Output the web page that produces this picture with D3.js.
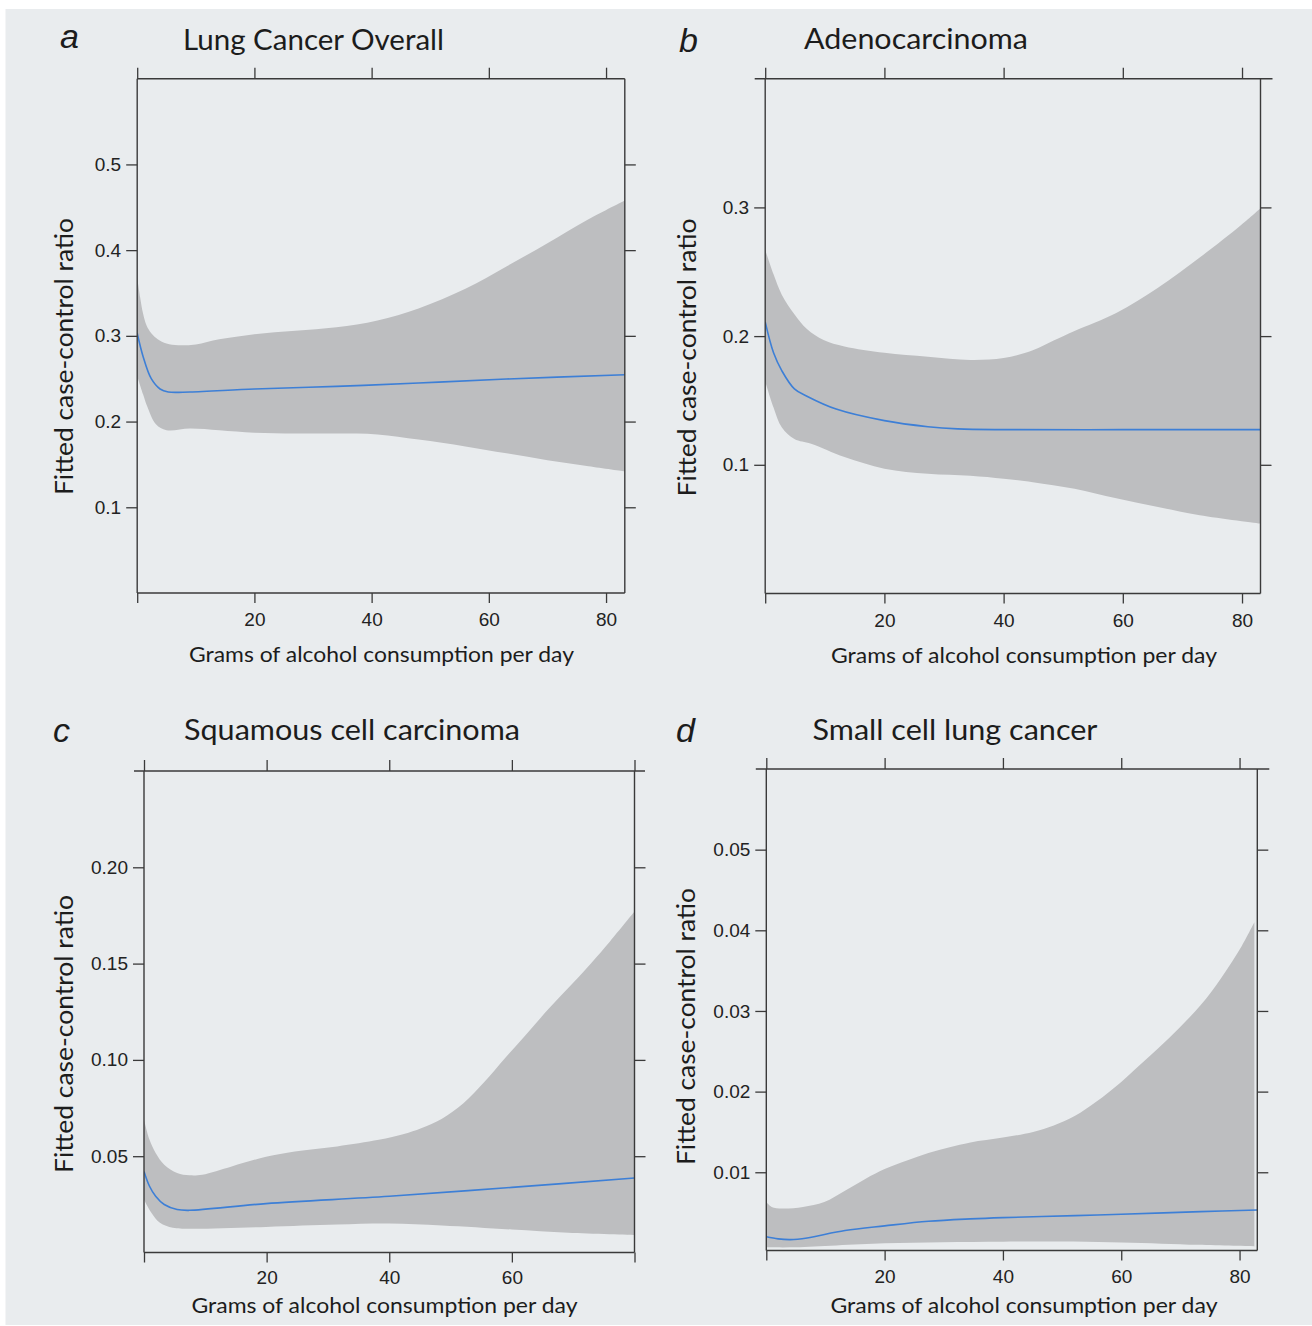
<!DOCTYPE html>
<html>
<head>
<meta charset="utf-8">
<script src="https://cdn.jsdelivr.net/npm/d3@7"></script>
<style>
  body { margin: 0; background: #ffffff; }
  svg { display: block; }
</style>
</head>
<body>
<svg id="chart" width="1312" height="1326"></svg>
<script>
// ---------------- DATA ----------------
const xTicks = [0, 20, 40, 60, 80];

// Panel a : Lung Cancer Overall
const aTitle = "Lung Cancer Overall";
const aXMax = 83.2;
const aYDomain = [0, 0.6];
const aYTicks = [0.1, 0.2, 0.3, 0.4, 0.5];
const aYLabels = ["0.1", "0.2", "0.3", "0.4", "0.5"];
const aXLabels = [20, 40, 60, 80];
const aUpper = [[0,0.368],[0.5,0.345],[1,0.326],[1.6,0.312],[2.4,0.303],[3.5,0.296],[5,0.291],[7,0.289],[10,0.290],[14,0.296],[20,0.302],[27,0.306],[34,0.310],[41,0.318],[48,0.332],[56,0.355],[63,0.381],[70,0.408],[77,0.436],[83.2,0.458]];
const aLower = [[0,0.253],[1,0.232],[1.7,0.218],[3.2,0.197],[5,0.190],[9,0.192],[14,0.190],[20,0.187],[27,0.186],[34,0.186],[41,0.185],[48,0.179],[56,0.171],[63,0.163],[70,0.155],[77,0.148],[83.2,0.142]];
const aFit = [[0,0.303],[1,0.276],[2.4,0.250],[3.9,0.238],[5.3,0.2345],[9,0.2345],[20,0.238],[34,0.241],[48,0.245],[63,0.2496],[83.2,0.2547]];

// Panel b : Adenocarcinoma
const bTitle = "Adenocarcinoma";
const bXMax = 83.1;
const bYDomain = [0, 0.4];
const bYTicks = [0.1, 0.2, 0.3];
const bYLabels = ["0.1", "0.2", "0.3"];
const bXLabels = [20, 40, 60, 80];
const bUpper = [[0,0.267],[1.4,0.248],[2.8,0.232],[4.9,0.217],[7,0.2055],[9.8,0.197],[13.3,0.192],[20,0.187],[27.3,0.184],[34.4,0.1815],[40,0.183],[44.9,0.189],[48.4,0.1965],[51.9,0.204],[58.9,0.218],[65.9,0.2375],[72.9,0.261],[79.9,0.2865],[83.1,0.2994]];
const bLower = [[0,0.165],[1.4,0.1446],[2.8,0.129],[4.9,0.120],[7.7,0.1163],[13.3,0.106],[20,0.097],[27.3,0.093],[34.4,0.0915],[40,0.0892],[44.9,0.0865],[51.9,0.0814],[58.9,0.0740],[65.9,0.0672],[72.9,0.0608],[83.1,0.0543]];
const bFit = [[0,0.211],[1.4,0.187],[2.8,0.173],[4.9,0.159],[7,0.1533],[11.9,0.1433],[20,0.1343],[27.3,0.1296],[32.3,0.1279],[40,0.1273],[60,0.1273],[83.1,0.1273]];

// Panel c : Squamous cell carcinoma
const cTitle = "Squamous cell carcinoma";
const cXMax = 80;
const cYDomain = [0, 0.25];
const cYTicks = [0.05, 0.10, 0.15, 0.20];
const cYLabels = ["0.05", "0.10", "0.15", "0.20"];
const cXLabels = [20, 40, 60];
const cUpper = [[0,0.0689],[0.9,0.0585],[1.9,0.0517],[3.3,0.0456],[5.4,0.0413],[7.4,0.0401],[9.5,0.0404],[14.3,0.0447],[19.9,0.0497],[24.6,0.0525],[31.5,0.0551],[38.3,0.0585],[42.4,0.0615],[45.2,0.0645],[48.6,0.0695],[52.1,0.0775],[55.5,0.0885],[58.9,0.1010],[62.4,0.1135],[66,0.1265],[70,0.1400],[73,0.1505],[76,0.1615],[80,0.177]];
const cLower = [[0,0.0275],[1.2,0.0206],[2.6,0.0154],[4.7,0.0128],[7.4,0.0123],[19.9,0.0133],[31.5,0.0145],[40,0.0150],[48.6,0.0140],[60,0.0119],[69.2,0.0102],[80,0.0090]];
const cFit = [[0,0.0421],[0.9,0.0344],[1.9,0.0292],[3.3,0.0249],[5.4,0.0223],[7.4,0.0219],[19.9,0.0254],[40,0.0292],[60,0.0338],[80,0.0387]];

// Panel d : Small cell lung cancer
const dTitle = "Small cell lung cancer";
const dXMax = 83;
const dYDomain = [0.0003, 0.06];
const dYTicks = [0.01, 0.02, 0.03, 0.04, 0.05];
const dYLabels = ["0.01", "0.02", "0.03", "0.04", "0.05"];
const dXLabels = [20, 40, 60, 80];
const dUpper = [[0,0.0063],[0.9,0.0057],[2.7,0.0055],[6.2,0.0057],[9.8,0.0063],[13.3,0.0077],[16.8,0.0092],[20,0.0104],[23.9,0.0115],[27.4,0.0124],[31,0.0131],[34.5,0.0137],[40,0.0143],[45.1,0.0150],[48.6,0.0158],[52.2,0.0170],[55.7,0.0187],[60,0.0212],[63,0.0232],[66.3,0.0254],[69.8,0.0279],[73.4,0.0307],[76.9,0.0341],[80.4,0.0381],[82.5,0.0410]];
const dLower = [[0,0.0007],[5,0.0007],[20,0.0012],[40,0.0014],[60,0.0013],[73,0.0010],[82.5,0.0008]];
const dFit = [[0,0.0020],[2,0.00174],[4.1,0.00165],[6.9,0.00186],[13.3,0.00277],[20,0.00335],[27.4,0.00392],[34.5,0.00422],[40,0.00438],[52.2,0.00462],[60,0.00479],[73.4,0.00512],[83,0.00533]];

const yAxisTitle = "Fitted case-control ratio";
const xAxisTitle = "Grams of alcohol consumption per day";

// ---------------- STYLE / LAYOUT ----------------
const BG = "#e9ecee";
const BAND = "#bdbec0";
const BLUE = "#3d7fd6";
const AXIS = "#3a3a3a";
const TEXT = "#1c1c1c";
const TICKFONT = "'Liberation Sans', Arial, sans-serif";
const LABELFONT = "Lato, 'Open Sans', sans-serif";

const panels = [
  { id: "a", title: aTitle, xMax: aXMax, yDomain: aYDomain, yTicks: aYTicks, yLabels: aYLabels, xLabels: aXLabels, upper: aUpper, lower: aLower, fit: aFit,
    L: 137.2, R: 624.8, T: 78.7, B: 593, extL: 0, extR: 0, xPad: 10,
    letter: { x: 60, y: 48 }, titlePos: { x: 183, y: 50, len: 261 },
    xt: { x: 381.5, y: 662, len: 385 }, yt: { x: 73, y: 356.5, len: 277 } },
  { id: "b", title: bTitle, xMax: bXMax, yDomain: bYDomain, yTicks: bYTicks, yLabels: bYLabels, xLabels: bXLabels, upper: bUpper, lower: bLower, fit: bFit,
    L: 765.2, R: 1260.5, T: 78.7, B: 593.5, extL: 10.5, extR: 12, xPad: 10,
    letter: { x: 679, y: 52 }, titlePos: { x: 804, y: 48.5, len: 224 },
    xt: { x: 1024, y: 662.5, len: 386 }, yt: { x: 695.5, y: 357.5, len: 278 } },
  { id: "c", title: cTitle, xMax: cXMax, yDomain: cYDomain, yTicks: cYTicks, yLabels: cYLabels, xLabels: cXLabels, upper: cUpper, lower: cLower, fit: cFit,
    L: 144, R: 634.5, T: 771, B: 1252.5, extL: 10, extR: 10.5, xPad: 8,
    letter: { x: 53, y: 742 }, titlePos: { x: 184, y: 740, len: 336 },
    xt: { x: 384.5, y: 1312.5, len: 386 }, yt: { x: 73, y: 1034, len: 278 } },
  { id: "d", title: dTitle, xMax: dXMax, yDomain: dYDomain, yTicks: dYTicks, yLabels: dYLabels, xLabels: dXLabels, upper: dUpper, lower: dLower, fit: dFit,
    L: 766.3, R: 1257.3, T: 769, B: 1250.5, extL: 10.5, extR: 12, xPad: 9,
    letter: { x: 676, y: 742 }, titlePos: { x: 812.5, y: 740, len: 285 },
    xt: { x: 1024, y: 1312.5, len: 387 }, yt: { x: 694.5, y: 1026.5, len: 277 } }
];

// ---------------- DRAW ----------------
const svg = d3.select("#chart");
svg.append("rect").attr("x", 5.5).attr("y", 9).attr("width", 1312 - 5.5).attr("height", 1325 - 9).attr("fill", BG);
const defs = svg.append("defs");

function styleAxis(g, showText) {
  g.select(".domain").remove();
  g.selectAll(".tick line").attr("stroke", AXIS).attr("stroke-width", 1.3);
  g.attr("font-family", TICKFONT).attr("font-size", 19);
  g.selectAll(".tick text").attr("fill", "#222");
  if (!showText) g.selectAll(".tick text").remove();
}

panels.forEach(p => {
  const x = d3.scaleLinear().domain([0, p.xMax]).range([p.L, p.R]);
  const y = d3.scaleLinear().domain(p.yDomain).range([p.B, p.T]);
  const g = svg.append("g").attr("class", "panel-" + p.id);

  const clipId = "clip-" + p.id;
  defs.append("clipPath").attr("id", clipId)
    .append("rect").attr("x", p.L).attr("y", p.T).attr("width", p.R - p.L).attr("height", p.B - p.T);

  const line = d3.line().x(d => x(d[0])).y(d => y(d[1])).curve(d3.curveCatmullRom.alpha(0.5));
  const up = line(p.upper);
  const lo = line(p.lower.slice().reverse());
  g.append("path")
    .attr("d", up + "L" + lo.slice(1) + "Z")
    .attr("fill", BAND)
    .attr("clip-path", `url(#${clipId})`);
  g.append("path")
    .attr("d", line(p.fit))
    .attr("fill", "none")
    .attr("stroke", BLUE)
    .attr("stroke-width", 1.6)
    .attr("clip-path", `url(#${clipId})`);

  // axes ticks
  g.append("g").attr("transform", `translate(${p.L},0)`)
    .call(d3.axisLeft(y).tickValues(p.yTicks).tickFormat((d, i) => p.yLabels[i]).tickSize(11).tickPadding(5).tickSizeOuter(0))
    .call(a => styleAxis(a, true));
  g.append("g").attr("transform", `translate(${p.R},0)`)
    .call(d3.axisRight(y).tickValues(p.yTicks).tickSize(11).tickSizeOuter(0))
    .call(a => styleAxis(a, false));
  g.append("g").attr("transform", `translate(0,${p.T})`)
    .call(d3.axisTop(x).tickValues(xTicks).tickSize(11).tickSizeOuter(0))
    .call(a => styleAxis(a, false));
  g.append("g").attr("transform", `translate(0,${p.B})`)
    .call(d3.axisBottom(x).tickValues(xTicks).tickFormat(d => p.xLabels.includes(d) ? String(d) : "").tickSize(10).tickPadding(p.xPad).tickSizeOuter(0))
    .call(a => styleAxis(a, true));

  // box
  const box = [
    [p.L, p.T, p.L, p.B],
    [p.R, p.T, p.R, p.B],
    [p.L, p.B, p.R, p.B],
    [p.L - p.extL, p.T, p.R + p.extR, p.T]
  ];
  g.selectAll("line.box").data(box).join("line").attr("class", "box")
    .attr("x1", d => d[0]).attr("y1", d => d[1]).attr("x2", d => d[2]).attr("y2", d => d[3])
    .attr("stroke", AXIS).attr("stroke-width", 1.4);

  // panel letter
  g.append("text").attr("x", p.letter.x).attr("y", p.letter.y)
    .attr("font-family", TICKFONT).attr("font-style", "italic").attr("font-size", 34)
    .attr("fill", TEXT).text(p.id);

  // title
  g.append("text").attr("x", p.titlePos.x).attr("y", p.titlePos.y)
    .attr("font-family", LABELFONT).attr("font-size", 28)
    .attr("textLength", p.titlePos.len).attr("lengthAdjust", "spacingAndGlyphs")
    .attr("fill", TEXT).text(p.title);

  // x axis title
  g.append("text").attr("x", p.xt.x).attr("y", p.xt.y).attr("text-anchor", "middle")
    .attr("font-family", LABELFONT).attr("font-size", 22)
    .attr("textLength", p.xt.len).attr("lengthAdjust", "spacingAndGlyphs")
    .attr("fill", TEXT).text(xAxisTitle);

  // y axis title
  g.append("text").attr("transform", `translate(${p.yt.x},${p.yt.y}) rotate(-90)`)
    .attr("text-anchor", "middle")
    .attr("font-family", LABELFONT).attr("font-size", 25)
    .attr("textLength", p.yt.len).attr("lengthAdjust", "spacingAndGlyphs")
    .attr("fill", TEXT).text(yAxisTitle);
});
</script>
</body>
</html>
